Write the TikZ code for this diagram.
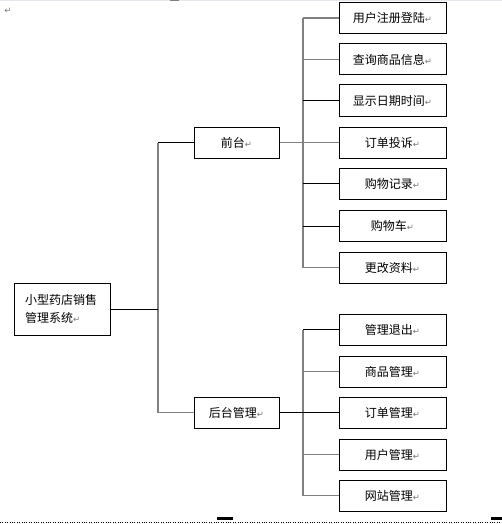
\documentclass[tikz,border=0pt]{standalone}
\usepackage{fontspec}
\newfontfamily\cjk{Noto Sans CJK SC}
\newfontfamily\dv{DejaVu Sans}
\definecolor{lgray}{RGB}{128,128,128}
\definecolor{mk}{RGB}{120,120,120}
\definecolor{topline}{RGB}{230,230,236}
\newcommand{\rmk}{{\dv\color{mk}\fontsize{8.5}{8.5}\selectfont ↵}}
\tikzset{
  box/.style={draw=black, line width=1pt, fill=white, inner sep=0pt, minimum height=31pt, font=\cjk\fontsize{12}{14}\selectfont},
  leafbox/.style={box, minimum width=107pt},
  midbox/.style={box, minimum width=85pt},
  bl/.style={draw=black, line width=1pt},
  gl/.style={draw=lgray, line width=1.2pt},
}
\begin{document}
\begin{tikzpicture}[x=1pt,y=-1pt]
\useasboundingbox (0,0) rectangle (502,524);
\fill[white] (0,0) rectangle (502,524);
% page artifacts
\draw[draw=topline, line width=1pt] (0,0.5) -- (502,0.5);
\fill[lgray] (170,0) rectangle (179,1.5);
\node[inner sep=0pt] (tl) at (8,11) {\rmk};
\draw[line width=0.8pt, dash pattern=on 0.8pt off 1.6pt] (0,522.5) -- (502,522.5);
\fill[black] (217,517) rectangle (233,520);
\fill[black] (491,517) rectangle (502,520);

% root
\node[box, minimum width=96pt, minimum height=52pt, text width=74pt, align=left, font=\cjk\fontsize{12}{18}\selectfont] (root) at (62,309) {小型药店销售\\管理系统\rmk};
% middle
\node[midbox] (front) at (236.5,142.5) {前台\rmk};
\node[midbox] (back) at (236.5,412.5) {后台管理\rmk};
% leaves top
\node[leafbox] (a1) at (392.5,18) {用户注册登陆\rmk};
\node[leafbox] (a2) at (392.5,59.5) {查询商品信息\rmk};
\node[leafbox] (a3) at (392.5,100.5) {显示日期时间\rmk};
\node[leafbox] (a4) at (392.5,142.5) {订单投诉\rmk};
\node[leafbox] (a5) at (392.5,183.5) {购物记录\rmk};
\node[leafbox] (a6) at (392.5,226) {购物车\rmk};
\node[leafbox] (a7) at (392.5,267.5) {更改资料\rmk};
% leaves bottom
\node[leafbox] (b1) at (392.5,329.5) {管理退出\rmk};
\node[leafbox] (b2) at (392.5,371.5) {商品管理\rmk};
\node[leafbox] (b3) at (392.5,412.5) {订单管理\rmk};
\node[leafbox] (b4) at (392.5,454.5) {用户管理\rmk};
\node[leafbox] (b5) at (392.5,495.5) {网站管理\rmk};

\coordinate (lt) at (158,309);
\coordinate (rt) at (303,0);

% left trunk
\draw[gl] (lt |- front.west) -- (lt |- back.west);
\draw[bl] (root.east) -- (lt);
\draw[bl] (lt |- front.west) -- (front.west);
\draw[gl] (lt |- back.west) -- (back.west);

% right trunks
\draw[gl] (rt |- a1.west) -- (rt |- a7.west);
\draw[gl] (rt |- b1.west) -- (rt |- b5.west);
\draw[gl] (front.east) -- (a4.west);
\draw[bl] (back.east) -- (b3.west);
\draw[gl] (rt |- a1.west) -- (a1.west);
\draw[gl] (rt |- a2.west) -- (a2.west);
\draw[bl] (rt |- a3.west) -- (a3.west);
\draw[bl] (rt |- a5.west) -- (a5.west);
\draw[bl] (rt |- a6.west) -- (a6.west);
\draw[gl] (rt |- a7.west) -- (a7.west);
\draw[bl] (rt |- b1.west) -- (b1.west);
\draw[gl] (rt |- b2.west) -- (b2.west);
\draw[gl] (rt |- b4.west) -- (b4.west);
\draw[gl] (rt |- b5.west) -- (b5.west);
\end{tikzpicture}
\end{document}
